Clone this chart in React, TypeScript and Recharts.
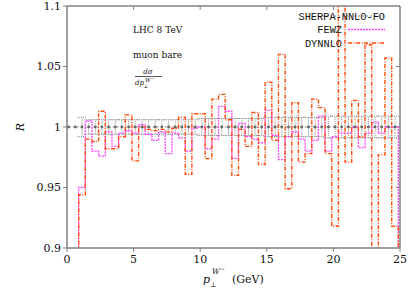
import React from 'react';
import { LineChart, Line, XAxis, YAxis, ErrorBar, ReferenceLine } from 'recharts';

const W = 409;
const H = 290;

// bin edges (GeV) of the histograms
const binEdges = [
  0.875, 1.375, 1.875, 2.375, 2.875, 3.375, 3.875, 4.375, 4.875, 5.375,
  5.875, 6.375, 6.875, 7.375, 7.875, 8.375, 8.875, 9.375, 9.875, 10.375,
  10.875, 11.375, 11.875, 12.375, 12.875, 13.375, 13.875, 14.375, 14.875, 15.375,
  15.875, 16.375, 16.875, 17.375, 17.875, 18.375, 18.875, 19.375, 19.875, 20.375,
  20.875, 21.375, 21.875, 22.375, 22.875, 23.375, 23.875, 24.375, 24.875,
];

const fewzRatio = [
  0.950, 1.005, 0.980, 0.976, 0.996, 0.984, 0.995, 0.997, 0.995, 1.002,
  0.994, 0.989, 0.996, 0.978, 0.995, 0.991, 0.980, 0.999, 1.000, 0.982,
  0.990, 1.017, 1.013, 0.974, 1.003, 0.992, 0.990, 0.987, 1.014, 0.993,
  0.973, 0.992, 0.996, 0.990, 0.980, 0.989, 1.009, 0.980, 0.992, 0.995,
  0.995, 1.000, 0.983, 0.995, 1.004, 0.995, 1.000, 1.000,
];

const dynnloRatio = [
  0.944, 0.990, 0.988, 1.013, 0.982, 0.982, 0.992, 1.010, 0.972, 1.000,
  0.998, 0.997, 0.998, 0.996, 0.999, 1.008, 0.961, 1.011, 1.011, 0.974,
  1.023, 1.027, 1.006, 0.960, 0.998, 0.984, 1.012, 0.969, 1.037, 0.989,
  1.060, 0.949, 1.020, 0.971, 0.978, 1.023, 1.016, 0.978, 0.918, 1.130,
  0.971, 1.022, 0.992, 1.068, 0.880, 0.977, 1.057, 0.918,
];

const sherpaCenters = [
  0.125, 0.625, 1.125, 1.625, 2.125, 2.625, 3.125, 3.625, 4.125, 4.625,
  5.125, 5.625, 6.125, 6.625, 7.125, 7.625, 8.125, 8.625, 9.125, 9.625,
  10.125, 10.625, 11.125, 11.625, 12.125, 12.625, 13.125, 13.625, 14.125, 14.625,
  15.125, 15.625, 16.125, 16.625, 17.125, 17.625, 18.125, 18.625, 19.125, 19.625,
  20.125, 20.625, 21.125, 21.625, 22.125, 22.625, 23.125, 23.625, 24.125, 24.625,
];

const sherpaRatio = [
  1, 1, 1, 1, 1, 1, 1, 1, 1, 1,
  1, 1, 1, 1, 1, 1, 1, 1, 1, 1,
  1, 1, 1, 1, 1, 1, 1, 1, 1, 1,
  1, 1, 1, 1, 1, 1, 1, 1, 1, 1,
  1, 1, 1, 1, 1, 1, 1, 1, 1, 1,
];

const sherpaErr = [
  0, 0, 0.008, 0.006, 0.006, 0.006, 0.006, 0.006, 0.006, 0.006,
  0.006, 0.006, 0.006, 0.006, 0.006, 0.006, 0.006, 0.006, 0.006, 0.006,
  0.007, 0.007, 0.007, 0.007, 0.007, 0.007, 0.007, 0.007, 0.007, 0.007,
  0.008, 0.008, 0.008, 0.008, 0.008, 0.008, 0.008, 0.008, 0.008, 0.009,
  0.009, 0.009, 0.009, 0.009, 0.009, 0.009, 0.009, 0.009, 0.009, 0.009,
];

const xTicks = [0, 5, 10, 15, 20, 25];
const yTicks = [0.9, 0.95, 1, 1.05, 1.1];
const xMax = 25;
const yMax = 1.1;

const FLOOR = 0.85; // histogram steps start/end from below the visible range

function stepRows(values: number[]) {
  const rows: { x: number; y: number }[] = [{ x: binEdges[0], y: FLOOR }];
  values.forEach((v, i) => rows.push({ x: binEdges[i], y: v }));
  const last = binEdges[values.length];
  rows.push({ x: last, y: values[values.length - 1] });
  rows.push({ x: last, y: FLOOR });
  return rows;
}

const fewzRows = stepRows(fewzRatio);
const dynnloRows = stepRows(dynnloRatio);
const sherpaRows = sherpaCenters.map((x, i) => ({ x, y: sherpaRatio[i], err: sherpaErr[i] }));

const AXIS = '#808080';
const FEWZ_C = '#ff44ff';
const DYN_C = '#ff4a0a';
const SH_C = '#8c8c8c';
const serif = 'DejaVu Serif';
const mono = 'Liberation Mono';

export default function App() {
  const tickStyle = { fill: '#111', fontFamily: serif, fontSize: 11 };
  return (
    <div style={{ position: 'absolute', left: 0, top: 0, width: W, height: H, background: '#fff' }}>
      <LineChart width={W} height={H} margin={{ top: 6, right: 9, bottom: 0, left: 0 }}>
        <XAxis
          xAxisId="b"
          type="number"
          dataKey="x"
          domain={[0, xMax]}
          ticks={xTicks}
          allowDataOverflow
          height={42}
          axisLine={{ stroke: AXIS, strokeWidth: 1.5 }}
          tickLine={{ stroke: AXIS }}
          tickSize={4}
          tickMargin={3}
          tick={tickStyle}
        />
        <YAxis
          yAxisId="l"
          type="number"
          domain={[0.9, yMax]}
          ticks={yTicks}
          allowDataOverflow
          width={67}
          axisLine={{ stroke: AXIS, strokeWidth: 1.5 }}
          tickLine={{ stroke: AXIS }}
          tickSize={4}
          tickMargin={2}
          tick={tickStyle}
        />
        <ReferenceLine xAxisId="b" yAxisId="l" y={yMax} stroke={AXIS} strokeWidth={1.5} />
        <ReferenceLine xAxisId="b" yAxisId="l" x={xMax} stroke={AXIS} strokeWidth={1.5} />
        {xTicks.slice(1, -1).map((t) => (
          <ReferenceLine
            key={'tx' + t}
            xAxisId="b"
            yAxisId="l"
            segment={[{ x: t, y: yMax }, { x: t, y: yMax - 0.0033 }]}
            stroke={AXIS}
          />
        ))}
        {yTicks.slice(1, -1).map((t) => (
          <ReferenceLine
            key={'ty' + t}
            xAxisId="b"
            yAxisId="l"
            segment={[{ x: xMax, y: t }, { x: xMax - 0.3, y: t }]}
            stroke={AXIS}
          />
        ))}
        <Line
          xAxisId="b"
          yAxisId="l"
          data={sherpaRows}
          dataKey="y"
          type="linear"
          stroke={SH_C}
          strokeWidth={1}
          strokeDasharray="2 2"
          dot={{ r: 1.4, fill: '#666', stroke: 'none' }}
          isAnimationActive={false}
        >
          <ErrorBar dataKey="err" direction="y" width={5} stroke={SH_C} strokeWidth={1} strokeDasharray="1 1" />
        </Line>
        <Line
          xAxisId="b"
          yAxisId="l"
          data={fewzRows}
          dataKey="y"
          type="stepAfter"
          stroke={FEWZ_C}
          strokeWidth={1.3}
          strokeDasharray="2 1"
          dot={false}
          isAnimationActive={false}
        />
        <Line
          xAxisId="b"
          yAxisId="l"
          data={dynnloRows}
          dataKey="y"
          type="stepAfter"
          stroke={DYN_C}
          strokeWidth={1.4}
          strokeDasharray="4 1.5 1 1.5"
          dot={false}
          isAnimationActive={false}
        />
      </LineChart>
      <svg width={W} height={H} style={{ position: 'absolute', left: 0, top: 0, pointerEvents: 'none' }}>
        <text
          transform="translate(24,127) rotate(-90)"
          textAnchor="middle"
          fontFamily={serif}
          fontStyle="italic"
          fontSize={11}
          fill="#111"
        >
          R
        </text>
        <g fontFamily={serif} fill="#111">
          <text x={203} y={283} fontSize={11} fontStyle="italic">p</text>
          <text x={210} y={287} fontSize={7}>⊥</text>
          <text x={212} y={274} fontSize={7.5} fontStyle="italic">W</text>
          <text x={220} y={271} fontSize={6}>−</text>
          <text x={232} y={283} fontSize={11}>(GeV)</text>
        </g>
        <g fontFamily={serif} fill="#111">
          <text x={133} y={33} fontSize={9}>LHC 8 TeV</text>
          <text x={133} y={58} fontSize={9}>muon bare</text>
          <text x={148} y={74} fontSize={7} fontStyle="italic" textAnchor="middle">dσ</text>
          <line x1={135} x2={162} y1={76.5} y2={76.5} stroke="#111" strokeWidth={0.7} />
          <text x={135} y={85} fontSize={7} fontStyle="italic">dp</text>
          <text x={143.5} y={88} fontSize={5}>⊥</text>
          <text x={145} y={81.5} fontSize={5.5} fontStyle="italic">W</text>
          <text x={151} y={79.5} fontSize={4.5}>−</text>
        </g>
        <g fontFamily={mono} fontSize={10.3} fill="#111">
          <line x1={322} x2={385} y1={16} y2={16} stroke={SH_C} strokeWidth={1} strokeDasharray="2 2" />
          <text x={385} y={19.5} textAnchor="end">SHERPA-NNLO-FO</text>
          <text x={342} y={33} textAnchor="end">FEWZ</text>
          <line x1={348} x2={385} y1={29.5} y2={29.5} stroke={FEWZ_C} strokeWidth={1.3} strokeDasharray="2 1" />
          <text x={342} y={46.5} textAnchor="end">DYNNLO</text>
          <line x1={348} x2={385} y1={43} y2={43} stroke={DYN_C} strokeWidth={1.4} strokeDasharray="4 1.5 1 1.5" />
        </g>
      </svg>
    </div>
  );
}
